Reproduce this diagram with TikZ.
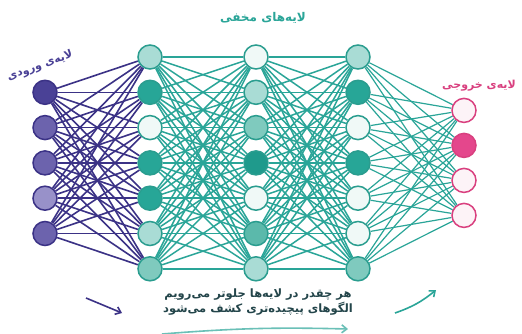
\documentclass[tikz,border=0pt]{standalone}
\usepackage{fontspec}
\setmainfont{DejaVu Sans}
\newfontfamily\arabicfont[Script=Arabic]{DejaVu Sans}
\TeXXeTstate=1
\usetikzlibrary{arrows.meta,backgrounds}
\definecolor{pdark}{HTML}{3B3286}
\definecolor{pA}{HTML}{4A4196}
\definecolor{pB}{HTML}{6C63AD}
\definecolor{pC}{HTML}{9891C9}
\definecolor{tline}{HTML}{2AA598}
\definecolor{tbord}{HTML}{2A9D8F}
\definecolor{tD}{HTML}{27A697}
\definecolor{tDD}{HTML}{1F9A8C}
\definecolor{tM}{HTML}{5BB9AB}
\definecolor{tL}{HTML}{7FCABE}
\definecolor{tLL}{HTML}{A9DCD5}
\definecolor{tW}{HTML}{F0F9F7}
\definecolor{pk}{HTML}{D9407F}
\definecolor{pkF}{HTML}{E4478C}
\definecolor{pkW}{HTML}{FDF3F7}
\definecolor{txt}{HTML}{23454A}
\tikzset{
  inp/.style={circle,draw=pdark,line width=1.5pt,minimum size=24pt,inner sep=0pt},
  hid/.style={circle,draw=tbord,line width=1.5pt,minimum size=24pt,inner sep=0pt},
  outn/.style={circle,draw=pk,line width=1.5pt,minimum size=24pt,inner sep=0pt},
  inedge/.style={draw=pdark,line width=1.6pt},
  hedge/.style={draw=tline,line width=1.5pt},
  oedge/.style={draw=tline,line width=1.2pt},
  lbl/.style={font=\arabicfont\bfseries\fontsize{11}{13}\selectfont,inner sep=0pt},
}
\begin{document}
\begin{tikzpicture}[x=1pt,y=-1pt]
\useasboundingbox (0,0) rectangle (522,333);
% input layer
\foreach \n/\y/\c in {1/92.3/pA,2/127.6/pB,3/162.9/pB,4/198.2/pC,5/233.5/pB}
  \node[inp,fill=\c] (i\n) at (45,\y) {};
% hidden layers
\foreach \n/\y/\c in {1/57/tLL,2/92.3/tD,3/127.6/tW,4/162.9/tD,5/198.2/tD,6/233.5/tLL,7/268.8/tL}
  \node[hid,fill=\c] (a\n) at (150,\y) {};
\foreach \n/\y/\c in {1/57/tW,2/92.3/tLL,3/127.6/tL,4/162.9/tDD,5/198.2/tW,6/233.5/tM,7/268.8/tLL}
  \node[hid,fill=\c] (b\n) at (256,\y) {};
\foreach \n/\y/\c in {1/57/tLL,2/92.3/tD,3/127.6/tW,4/162.9/tD,5/198.2/tW,6/233.5/tW,7/268.8/tL}
  \node[hid,fill=\c] (c\n) at (358,\y) {};
% output layer
\foreach \n/\y/\c in {1/110.4/pkW,2/145.4/pkF,3/180.4/pkW,4/215.4/pkW}
  \node[outn,fill=\c] (o\n) at (464,\y) {};
\begin{scope}[on background layer]
\fill[white] (0,0) rectangle (522,333);
\foreach \i in {1,...,5} \foreach \j in {1,...,7} \draw[inedge] (i\i) -- (a\j);
\foreach \i in {1,...,7} \foreach \j in {1,...,7} \draw[hedge] (a\i) -- (b\j);
\foreach \i in {1,...,7} \foreach \j in {1,...,7} \draw[hedge] (b\i) -- (c\j);
\foreach \i in {1,...,7} \foreach \j in {1,...,4} \draw[oedge] (c\i) -- (o\j);
\end{scope}
% labels
\node[lbl,text=tline,font=\arabicfont\bfseries\fontsize{12}{14}\selectfont] (title) at (263,18) {\beginR لایه‌های مخفی\endR};
\node[lbl,text=pA,rotate=20] (inlbl) at (40,66) {\beginR لایه‌ی ورودی\endR};
\node[lbl,text=pk] (outlbl) at (479,86) {\beginR لایه‌ی خروجی\endR};
\node[lbl,text=txt,align=center,font=\arabicfont\bfseries\fontsize{11.5}{15.5}\selectfont] (note) at (258,302) {\beginR هر چقدر در لایه‌ها جلوتر می‌رویم\endR\\\beginR الگوهای پیچیده‌تری کشف می‌شود\endR};
% arrows
\coordinate (pa1) at (86,298);
\coordinate (pa2) at (122,313);
\draw[pdark,line width=1.6pt,-{Straight Barb[length=5pt,width=8pt]}] (pa1) -- (pa2);
\coordinate (ta1) at (395,313);
\coordinate (ta2) at (436,290);
\draw[tline,line width=1.6pt,-{Straight Barb[length=5pt,width=8pt]}] (ta1) to[bend right=10] (ta2);
\coordinate (ba1) at (162,334);
\coordinate (ba2) at (348,329);
\draw[tline!70,line width=1.6pt,-{Straight Barb[length=5pt,width=8pt]}] (ba1) to[bend left=3] (ba2);
\end{tikzpicture}
\end{document}
